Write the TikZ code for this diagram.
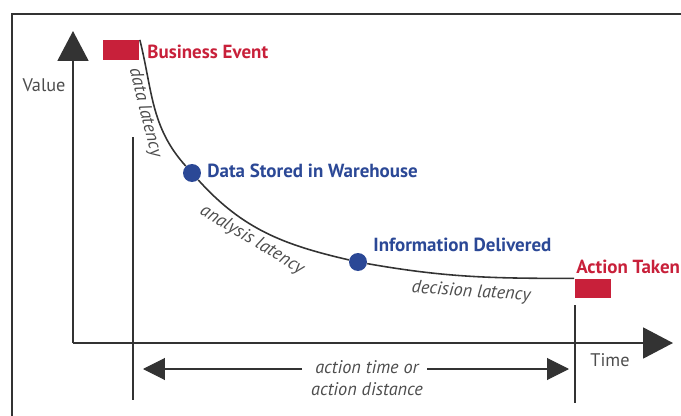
\documentclass[tikz,border=0pt]{standalone}
\usepackage{fontspec}
\setmainfont{PT Sans}
\usetikzlibrary{arrows.meta}
\definecolor{eventred}{RGB}{200,32,58}
\definecolor{stepblue}{RGB}{43,72,150}
\definecolor{inkgray}{RGB}{51,51,51}
\definecolor{textgray}{RGB}{77,77,77}

\begin{document}
\begin{tikzpicture}[x=0.02cm,y=-0.02cm]

%
% Styles
%
\tikzstyle{event} = [rectangle,fill=eventred,inner sep=0pt,minimum width=0.74cm,minimum height=0.39cm]
\tikzstyle{stage} = [circle,fill=stepblue,inner sep=0pt,minimum size=0.36cm]
\tikzstyle{evlabel} = [anchor=west,text=eventred,font=\fontsize{10.8}{12}\selectfont\bfseries,inner sep=0pt]
\tikzstyle{stlabel} = [anchor=west,text=stepblue,font=\fontsize{10.8}{12}\selectfont\bfseries,inner sep=0pt]
\tikzstyle{axislabel} = [text=textgray,font=\fontsize{10.4}{12}\selectfont,inner sep=0pt]
\tikzstyle{latency} = [text=textgray,font=\fontsize{10.4}{12.6}\selectfont\itshape,inner sep=0pt]
\tikzstyle{axis} = [draw=inkgray,line width=1.1pt,-{Triangle[length=0.6cm,width=0.62cm]}]
\tikzstyle{span} = [draw=inkgray,line width=0.6pt,-{Triangle[length=0.44cm,width=0.44cm]}]
\tikzstyle{marker} = [draw=inkgray,line width=0.6pt]

\useasboundingbox (0,0) rectangle (681,416);
\clip (0,0) rectangle (681,416);

% frame
\draw[inkgray,line width=1.1pt] (12,416) -- (12,14) -- (681,14);

% axes
\coordinate (o) at (73,343);
\coordinate (ytop) at (73,31);
\coordinate (xend) at (673,343);
\draw[axis] (o) -- (ytop);
\draw[axis] (o) -- (xend);
\node[axislabel] (value) at (44,85) {Value};
\node[axislabel] (time) at (610,360) {Time};

% events and stages
\node[event] (be) at (121,50) {};
\node[event] (at) at (593,288.5) {};
\node[stage] (ds) at (192,173) {};
\node[stage] (id) at (358,262) {};

\node[evlabel] (belabel) at (147,52) {Business Event};
\node[evlabel] (atlabel) at (576,267) {Action Taken};
\node[stlabel] (dslabel) at (207,171) {Data Stored in Warehouse};
\node[stlabel] (idlabel) at (373,245) {Information Delivered};

% value curve
\draw[inkgray,line width=0.9pt] (be.north east) to[out=-76,in=132] (ds)
  to[out=-48,in=167] (id) to[out=-10,in=180] (at.north west);

\node[latency,rotate=-76] (dl) at (145,113) {data latency};
\node[latency,rotate=-31] (al) at (252,240) {analysis latency};
\node[latency,rotate=-4] (decl) at (471,292) {decision latency};

% action span
\coordinate (m1top) at (133,137);
\coordinate (m1bot) at (133,400);
\coordinate (m2top) at (575,305);
\coordinate (m2bot) at (575,403);
\draw[marker] (m1top) -- (m1bot);
\draw[marker] (m2top) -- (m2bot);

\node[latency,align=center] (act) at (367,378) {action time or\\action distance};
\coordinate (lstart) at (302,369);
\coordinate (ltip) at (143,369);
\coordinate (rstart) at (427,369);
\coordinate (rtip) at (569,369);
\draw[span] (lstart) -- (ltip);
\draw[span] (rstart) -- (rtip);

\end{tikzpicture}
\end{document}
